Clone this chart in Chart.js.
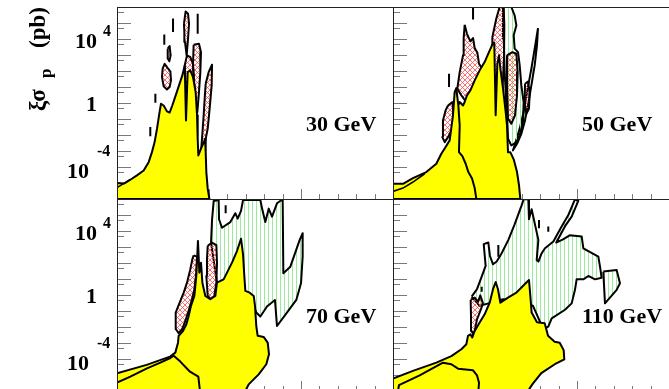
<!DOCTYPE html>
<html>
<head>
<meta charset="utf-8">
<script src="https://cdn.jsdelivr.net/npm/chart.js@4.4.1/dist/chart.umd.min.js"></script>
<style>
  html, body { margin: 0; padding: 0; background: #fff; }
  #wrap { position: relative; width: 669px; height: 389px; overflow: hidden; }
  #wrap canvas { position: absolute; left: 0; top: 0; }
</style>
</head>
<body>
<div id="wrap">
  <canvas id="p30" width="669" height="393"></canvas>
  <canvas id="p50" width="669" height="393"></canvas>
  <canvas id="p70" width="669" height="393"></canvas>
  <canvas id="p110" width="669" height="393"></canvas>
</div>
<script>
// ---- panel labels and axis ticks ----
const energyLabels = ['30 GeV', '50 GeV', '70 GeV', '110 GeV'];
const axisTitle = { main: 'ξσ', sub: 'p', unit: '(pb)' };
const decadeTicks = [1e-5, 1e-4, 1e-3, 1e-2, 1e-1, 1, 1e1, 1e2, 1e3, 1e4, 1e5];
const halfTicks = [5e-6, 5e-5, 5e-4, 5e-3, 5e-2, 5e-1, 5, 50, 500, 5e3, 5e4, 5e5];
const xMajorTicks = [1, 2];
const xMinorTicks = [0.2, 0.4, 0.6, 0.8, 1.2, 1.4, 1.6, 1.8, 2.2, 2.4, 2.6, 2.8];
const yTickLabels = [
  { value: 1e4, base: '10', exp: '4' },
  { value: 1, base: '1', exp: '' },
  { value: 1e-4, base: '10', exp: '-4' }
];

// ---- 30 GeV ----
const tlYellow = [[0,1e-6],[0,1e-5],[0.08,9.3e-6],[0.145,1.6e-5],[0.217,3e-5],[0.29,6e-5],[0.344,2e-4],[0.38,8.5e-4],[0.409,3.6e-3],[0.435,2.5e-2],[0.457,0.17],[0.478,0.9],[0.507,0.7],[0.543,0.3],[0.572,0.25],[0.601,0.7],[0.638,3],[0.674,12.6],[0.71,53],[0.736,224],[0.75,0.08],[0.768,85],[0.797,110],[0.826,42],[0.855,4.8],[0.87,0.17],[0.877,5.9e-3],[0.884,5.3e-4],[0.913,1.4e-3],[0.942,3.3e-3],[0.957,5.9e-3],[0.964,8.5e-4],[0.971,4.8e-5],[0.986,4.4e-6],[1.004,1e-6]];
const tlEdge = [[0,5.1e-6],[0.145,1.7e-5]];
const tlHatchA = [[0.728,9e4],[0.746,5.3e5],[0.772,3.8e5],[0.783,9e4],[0.772,1e4],[0.757,950],[0.739,6.5e3],[0.732,2.7e4]];
const tlHatchB = [[0.551,2.5e3],[0.572,3.6e3],[0.583,950],[0.569,400],[0.554,590]];
const tlHatchC = [[0.496,140],[0.518,280],[0.551,150],[0.58,94],[0.587,26],[0.572,10],[0.543,7],[0.507,11],[0.489,42]];
const tlHatchD = [[0.736,224],[0.761,950],[0.797,740],[0.826,280],[0.833,42],[0.779,20],[0.743,20]];
const tlHatchE = [[0.833,4.4e3],[0.891,5e3],[0.913,1.5e3],[0.906,85],[0.891,4.8],[0.873,0.27],[0.855,0.7],[0.841,12.6],[0.826,224]];
const tlHatchF = [[0.964,16],[0.996,85],[1.033,245],[1.029,12.6],[1.007,0.44],[0.986,0.025],[0.957,3.6e-3],[0.913,8.5e-4],[0.924,5.9e-3],[0.942,0.17],[0.953,1.9]];
const tlDashes = [[[0.609,1.9e5],[0.609,2.7e4]],[[0.877,3.8e5],[0.877,2.1e4]],[[0.514,1.9e4],[0.514,4.4e3]],[[0.362,0.032],[0.362,8.5e-3]],[[0.417,3.8],[0.417,1.05]]];

// ---- 50 GeV ----
const trYellowA = [[0,1e-6],[0,8.9e-6],[0.109,8.9e-6],[0.217,2e-5],[0.362,4.8e-5],[0.471,1.6e-4],[0.525,6.7e-4],[0.572,1.8e-3],[0.616,4.6e-3],[0.652,0.17],[0.67,4.8],[0.688,8.5],[0.71,0.7],[0.725,0.04],[0.717,8.5e-4],[0.754,4.8e-4],[0.79,1.6e-4],[0.819,4.8e-5],[0.859,1.9e-5],[0.888,4.8e-6],[0.906,1e-6]];
const trYellowB = [[0.725,1e-6],[0.707,0.7],[0.725,1.15],[0.761,0.7],[0.779,1.15],[0.804,3],[0.841,6.2],[0.888,26],[0.942,110],[0.996,360],[1.043,1.5e3],[1.08,4.4e3],[1.101,5.9e3],[1.116,0.17],[1.134,280],[1.152,950],[1.167,140],[1.196,7.8],[1.225,0.27],[1.239,0.04],[1.25,8.5e-4],[1.275,8.5e-4],[1.312,3e-4],[1.348,4.8e-5],[1.37,7e-6],[1.384,1e-6]];
const trEdge = [[0,3e-6],[0.109,4.8e-6],[0.217,1.15e-5],[0.344,3.8e-5]];
const trHatchA = [[0.779,7.8e4],[0.804,2.1e4],[0.841,7.1e3],[0.87,1.15e4],[0.888,2.7e3],[0.917,1.4e3],[0.935,280],[0.971,140],[0.986,42],[1.007,20],[0.996,1.9],[0.96,1.15],[0.913,2.3],[0.87,1.15],[0.841,0.44],[0.797,1.15],[0.743,3],[0.699,7.8],[0.725,85],[0.761,950],[0.768,1.05e4]];
const trHatchB = [[0.598,0.7],[0.645,1.15],[0.659,0.17],[0.645,0.025],[0.598,7.4e-3],[0.562,3.6e-3],[0.536,7.4e-3],[0.543,0.081],[0.572,0.35]];
const trHatchC = [[1.08,1.3e4],[1.123,1.9e5],[1.159,1e6],[1.203,1e6],[1.21,7.1e4],[1.207,950],[1.196,33],[1.178,0.44],[1.123,0.27],[1.087,7.8],[1.08,360]];
const trHatchD = [[1.239,950],[1.297,1.5e3],[1.341,1.2e3],[1.355,85],[1.348,3],[1.326,0.17],[1.286,0.05],[1.25,0.105],[1.239,7.8]];
const trHatchE = [[1.435,16],[1.467,22],[1.486,4.8],[1.478,0.44],[1.449,0.21],[1.431,1.15]];
const trGreenA = [[1.196,1e6],[1.286,1e6],[1.322,3e5],[1.341,7.1e4],[1.312,1.7e4],[1.322,2.5e3],[1.359,1.5e3],[1.377,224],[1.395,12.6],[1.42,1.15],[1.413,0.065],[1.377,9.5e-3],[1.341,3.6e-3],[1.286,2.2e-3],[1.25,5.9e-3],[1.232,0.7],[1.214,85],[1.203,1.05e4]];
const trGreenB = [[1.576,4.8e4],[1.565,4e3],[1.54,224],[1.504,12.6],[1.467,0.7],[1.431,0.065],[1.395,0.012],[1.348,2.8e-3],[1.304,1.1e-3],[1.333,3.6e-3],[1.377,0.025],[1.42,0.27],[1.457,4.8],[1.504,140],[1.54,2.5e3]];
const trDashes = [[[0.87,1e6],[0.87,1.65e5]],[[0.609,67],[0.609,10]]];

// ---- 70 GeV ----
const blYellow = [[0,1e-6],[0,1.3e-5],[0.322,4.3e-5],[0.576,1.4e-4],[0.634,2.5e-4],[0.663,1.05e-3],[0.67,2.8e-3],[0.717,5.6e-3],[0.754,0.015],[0.779,0.049],[0.804,0.21],[0.841,0.87],[0.862,15.5],[0.88,2.4e3],[0.895,25],[0.913,105],[0.928,5.9],[0.96,0.87],[1.014,0.54],[1.069,0.87],[1.087,5.9],[1.159,9.5],[1.25,105],[1.304,560],[1.348,3.3e3],[1.37,350],[1.384,15.5],[1.395,1.8],[1.442,1.4],[1.486,0.87],[1.5,0.21],[1.514,0.0115],[1.529,2.8e-3],[1.594,2.4e-3],[1.638,1.05e-3],[1.652,2e-4],[1.623,4.7e-5],[1.54,1.1e-5],[1.431,2.6e-6],[1.395,1e-6]];
const blYellowInner = [[0,1e-6],[0,3.3e-6],[0.145,7.9e-6],[0.326,2.6e-5],[0.471,5.9e-5],[0.58,1.15e-4],[0.616,1.6e-4],[0.688,6.9e-5],[0.793,1.6e-5],[0.884,7.9e-6],[0.902,1e-6]];
const blHatchA = [[0.833,300],[0.87,250],[0.862,25],[0.841,2.3],[0.815,0.54],[0.779,0.105],[0.743,0.024],[0.707,7.2e-3],[0.67,4.1e-3],[0.641,7.2e-3],[0.638,0.08],[0.681,0.33],[0.725,1.4],[0.761,5.9],[0.797,41],[0.819,170]];
const blHatchB = [[0.986,1.2e3],[1.033,1.9e3],[1.08,1.3e3],[1.087,105],[1.08,5.9],[1.058,0.87],[1.022,0.54],[0.986,0.87],[0.971,15.5],[0.978,170]];
const blGreen = [[1.022,1.9e3],[1.033,4.9e4],[1.051,7.6e5],[1.105,8.7e5],[1.109,5.4e4],[1.141,1.6e4],[1.232,3.6e4],[1.286,1.3e5],[1.312,5.9e4],[1.348,1.8e5],[1.37,8.7e5],[1.558,8.7e5],[1.58,2.1e5],[1.612,3.6e4],[1.649,2.5e5],[1.685,7.9e4],[1.739,5.4e5],[1.79,8.7e5],[1.801,8.7e5],[1.808,23],[1.884,59],[1.986,2.8e3],[2.018,7.2e3],[2.018,250],[2.0,5.4],[1.949,0.49],[1.841,0.072],[1.739,0.0115],[1.717,0.49],[1.63,0.19],[1.558,0.045],[1.514,0.08],[1.449,0.87],[1.196,2.3],[1.087,5.9]];
const blDashes = [[[1.181,4.1e5],[1.181,1.3e5]]];

// ---- 110 GeV ----
const brYellow = [[0,1e-6],[0,5.9e-6],[0.217,1.8e-5],[0.471,5.9e-5],[0.634,1.5e-4],[0.743,4.1e-4],[0.797,8.3e-4],[0.815,2.8e-3],[0.841,3.5e-3],[0.862,2.2e-3],[0.888,5.6e-3],[0.942,0.019],[0.996,0.062],[1.051,0.33],[1.087,2.3],[1.116,6.5],[1.141,2.3],[1.167,0.33],[1.25,0.69],[1.341,1.4],[1.431,4.7],[1.478,8.7],[1.493,0.87],[1.507,0.08],[1.565,0.02],[1.649,0.017],[1.685,2.8e-3],[1.757,1.2e-3],[1.812,1.05e-3],[1.855,3.6e-4],[1.862,9.5e-5],[1.775,5.4e-5],[1.612,1.3e-5],[1.514,2.6e-6],[1.467,1e-6]];
const brYellowInner = [[0.054,1e-6],[0.065,2.3e-6],[0.29,9.5e-6],[0.543,5.9e-5],[0.634,4.7e-5],[0.707,2.5e-5],[0.87,1.95e-5],[0.913,9.5e-6],[0.935,3.3e-6],[0.928,1e-6]];
const brHatch = [[0.844,0.49],[0.888,0.69],[0.924,0.37],[0.949,0.95],[0.978,0.3],[0.949,0.1],[0.913,0.03],[0.895,9.1e-3],[0.877,3e-3],[0.855,5.6e-3],[0.848,0.049]];
const brGreen = [[0.855,0.8],[0.913,2.3],[0.964,14],[1.007,66],[0.986,1.5e3],[1.036,1.9e3],[1.054,275],[1.087,83],[1.127,123],[1.181,410],[1.254,2.8e3],[1.322,2.6e4],[1.362,1.1e5],[1.395,3.6e5],[1.42,9.5e5],[1.471,9.5e5],[1.478,5.4e4],[1.507,2.3e5],[1.543,2.6e4],[1.58,2.8e3],[1.562,155],[1.58,123],[1.616,410],[1.652,830],[1.743,2.2e3],[1.833,1.9e4],[1.906,1e5],[1.978,9.5e5],[2.014,7.6e5],[1.942,7.9e4],[1.87,2e4],[1.775,1.9e3],[1.848,3e3],[1.92,5.4e3],[2.051,4.5e3],[2.069,830],[2.138,490],[2.232,250],[2.25,59],[2.268,12],[2.196,9.5],[2.123,15.5],[2.069,9.5],[1.996,9.5],[1.978,2.1],[1.942,0.3],[1.87,0.12],[1.725,0.035],[1.688,0.0105],[1.634,7.2e-3],[1.522,0.21],[1.196,0.54],[0.942,0.21]];
const brGreenIsland = [[2.286,29],[2.431,36],[2.467,5.4],[2.431,2.1],[2.304,0.3]];
const brDashes = [[[1.587,4.9e4],[1.587,1.5e4]],[[1.688,1.9e4],[1.688,9.1e3]],[[1.145,1.35e3],[1.145,250]],[[0.964,3.3],[0.964,1.6]]];

// ---- fill styles ----
const YELLOW = '#ffff00';
function makeCrossHatch() {
  const c = document.createElement('canvas');
  c.width = 5; c.height = 5;
  const g = c.getContext('2d');
  g.strokeStyle = '#ff4a4a';
  g.lineWidth = 0.8;
  g.beginPath();
  for (const d of [-5, 0, 5]) {
    g.moveTo(d, 0); g.lineTo(d + 5, 5);
    g.moveTo(d + 5, 0); g.lineTo(d, 5);
  }
  g.stroke();
  return g.createPattern(c, 'repeat');
}
function makeVerticalHatch() {
  const c = document.createElement('canvas');
  c.width = 4; c.height = 4;
  const g = c.getContext('2d');
  g.fillStyle = '#98ec98';
  g.fillRect(0, 0, 1, 4);
  return g.createPattern(c, 'repeat');
}
const RED_HATCH = makeCrossHatch();
const GREEN_HATCH = makeVerticalHatch();

// ---- dataset builders ----
function toPoints(arr) { return arr.map(p => ({ x: p[0], y: p[1] })); }
function area(arr, fillStyle) {
  return {
    data: toPoints(arr.concat([arr[0]])),
    showLine: true, fill: 'shape', backgroundColor: fillStyle,
    borderColor: '#000', borderWidth: 2, borderJoinStyle: 'round',
    pointRadius: 0, tension: 0
  };
}
function stroke(arr, width) {
  return {
    data: toPoints(arr), showLine: true, fill: false,
    borderColor: '#000', borderWidth: width, pointRadius: 0, tension: 0
  };
}

// ---- frame, ticks and text ----
const SERIF = '"Liberation Serif", "DejaVu Serif", serif';
function decor(cfg) {
  return {
    id: 'decor',
    beforeDatasetsDraw(chart) {
      const { ctx, chartArea: a, scales: { x, y } } = chart;
      ctx.save();
      ctx.strokeStyle = '#7a7a7a';
      ctx.lineWidth = 1;
      ctx.beginPath();
      for (const v of decadeTicks) {
        const py = Math.round(y.getPixelForValue(v)) + 0.5;
        ctx.moveTo(a.left, py); ctx.lineTo(a.left + 14, py);
      }
      for (const v of halfTicks) {
        const py = Math.round(y.getPixelForValue(v)) + 0.5;
        ctx.moveTo(a.left, py); ctx.lineTo(a.left + 7, py);
      }
      for (const v of xMajorTicks) {
        const px = Math.round(x.getPixelForValue(v)) + 0.5;
        ctx.moveTo(px, a.bottom); ctx.lineTo(px, a.bottom - 10);
      }
      for (const v of xMinorTicks) {
        const px = Math.round(x.getPixelForValue(v)) + 0.5;
        ctx.moveTo(px, a.bottom); ctx.lineTo(px, a.bottom - 5);
      }
      ctx.stroke();
      ctx.restore();
    },
    afterDatasetsDraw(chart) {
      const { ctx, chartArea: a, scales: { y } } = chart;
      ctx.save();
      ctx.strokeStyle = '#222';
      ctx.lineWidth = 1;
      ctx.strokeRect(a.left + 0.5, a.top + 0.5, a.right - a.left, a.bottom - a.top);

      ctx.fillStyle = '#000';
      ctx.textBaseline = 'alphabetic';
      ctx.font = 'bold 22px ' + SERIF;
      ctx.textAlign = 'left';
      ctx.fillText(cfg.label, a.left + 189, a.top + 124);

      if (cfg.yLabels) {
        for (const t of yTickLabels) {
          const py = y.getPixelForValue(t.value);
          ctx.font = 'bold 22px ' + SERIF;
          ctx.textAlign = 'right';
          if (t.exp === '') {
            ctx.fillText(t.base, 97, py + 7.5);
          } else if (t.exp.startsWith('-')) {
            ctx.fillText(t.base, 89, py + 10.5);
            ctx.font = 'bold 16px ' + SERIF;
            ctx.textAlign = 'left';
            ctx.fillText(t.exp, 97, py - 11.5);
          } else {
            ctx.fillText(t.base, 97, py + 8.5);
            ctx.font = 'bold 16px ' + SERIF;
            ctx.textAlign = 'left';
            ctx.fillText(t.exp, 103, py - 3.5);
          }
        }
      }
      if (cfg.title) {
        ctx.translate(45, 111);
        ctx.rotate(-Math.PI / 2);
        ctx.textAlign = 'left';
        ctx.font = 'bold 23px ' + SERIF;
        ctx.fillText(axisTitle.main, 0, 0);
        ctx.font = 'bold 17px ' + SERIF;
        ctx.fillText(axisTitle.sub, 33, 6);
        ctx.font = 'bold 23px ' + SERIF;
        ctx.fillText(axisTitle.unit, 63, 0);
      }
      ctx.restore();
    }
  };
}

function panel(id, padding, datasets, cfg) {
  return new Chart(document.getElementById(id), {
    type: 'scatter',
    data: { datasets },
    options: {
      responsive: false,
      devicePixelRatio: 1,
      animation: false,
      events: [],
      layout: { padding },
      scales: {
        x: { type: 'linear', min: 0, max: 3, display: false },
        y: { type: 'logarithmic', min: 1e-6, max: 1e6, display: false }
      },
      plugins: { legend: { display: false }, tooltip: { enabled: false }, filler: { propagate: false } }
    },
    plugins: [decor(cfg)]
  });
}

// datasets listed top-most first
panel('p30', { left: 117, top: 7, right: 276, bottom: 194 }, [
  ...tlDashes.map(d => stroke(d, 2)),
  stroke(tlEdge, 1.6),
  area(tlYellow, YELLOW),
  area(tlHatchA, RED_HATCH), area(tlHatchB, RED_HATCH), area(tlHatchC, RED_HATCH),
  area(tlHatchD, RED_HATCH), area(tlHatchE, RED_HATCH), area(tlHatchF, RED_HATCH)
], { label: energyLabels[0], yLabels: true, title: true });

panel('p50', { left: 393, top: 7, right: 0, bottom: 194 }, [
  ...trDashes.map(d => stroke(d, 2)),
  stroke(trEdge, 1.6),
  area(trYellowA, YELLOW), area(trYellowB, YELLOW),
  area(trHatchA, RED_HATCH), area(trHatchB, RED_HATCH), area(trHatchC, RED_HATCH),
  area(trHatchD, RED_HATCH), area(trHatchE, RED_HATCH),
  area(trGreenA, GREEN_HATCH), area(trGreenB, GREEN_HATCH)
], { label: energyLabels[1], yLabels: false, title: false });

panel('p70', { left: 117, top: 199, right: 276, bottom: 2 }, [
  ...blDashes.map(d => stroke(d, 2)),
  area(blYellowInner, YELLOW), area(blYellow, YELLOW),
  area(blHatchA, RED_HATCH), area(blHatchB, RED_HATCH),
  area(blGreen, GREEN_HATCH)
], { label: energyLabels[2], yLabels: true, title: false });

panel('p110', { left: 393, top: 199, right: 0, bottom: 2 }, [
  ...brDashes.map(d => stroke(d, 2)),
  area(brYellowInner, YELLOW), area(brYellow, YELLOW),
  area(brHatch, RED_HATCH),
  area(brGreen, GREEN_HATCH), area(brGreenIsland, GREEN_HATCH)
], { label: energyLabels[3], yLabels: false, title: false });
</script>
</body>
</html>
